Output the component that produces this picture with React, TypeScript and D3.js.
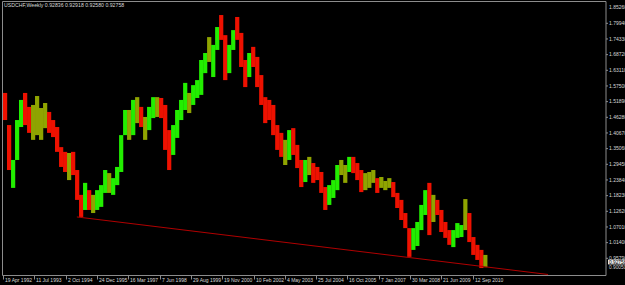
import React, { useEffect } from "react";
import * as d3 from "d3";

// ---- data ----
const symbolTitle = "USDCHF,Weekly";
const ohlcValues = ["0.92836", "0.92918", "0.92580", "0.92758"];

// price ranges, one entry per ~8 week period from 19 Apr 1992
const highs = [
  1.550, 1.435, 1.310, 1.453, 1.525, 1.550, 1.500, 1.507, 1.539, 1.496,
  1.514, 1.482, 1.453, 1.428, 1.356, 1.339, 1.335, 1.339, 1.274, 1.185,
  1.228, 1.202, 1.185, 1.202, 1.220, 1.274, 1.263, 1.245, 1.285, 1.399,
  1.489, 1.489, 1.525, 1.535, 1.500, 1.464, 1.500, 1.535, 1.535, 1.532,
  1.507, 1.417, 1.435, 1.489, 1.525, 1.586, 1.550, 1.578, 1.596, 1.668,
  1.693, 1.750, 1.722, 1.786, 1.829, 1.757, 1.722, 1.775, 1.822, 1.765,
  1.668, 1.693, 1.715, 1.679, 1.614, 1.535, 1.525, 1.507, 1.435, 1.407,
  1.382, 1.417, 1.424, 1.364, 1.310, 1.310, 1.321, 1.299, 1.285, 1.267,
  1.213, 1.220, 1.238, 1.292, 1.310, 1.292, 1.321, 1.321, 1.299, 1.274,
  1.263, 1.267, 1.274, 1.245, 1.249, 1.235, 1.245, 1.231, 1.192, 1.167,
  1.120, 1.066, 1.066, 1.088, 1.149, 1.202, 1.228, 1.185, 1.167, 1.131,
  1.088, 1.059, 1.059, 1.084, 1.077, 1.170, 1.120, 1.034, 1.006, 0.988,
  0.970,
];
const lows = [
  1.453, 1.274, 1.210, 1.310, 1.428, 1.435, 1.407, 1.382, 1.399, 1.382,
  1.424, 1.407, 1.392, 1.339, 1.285, 1.267, 1.238, 1.256, 1.167, 1.106,
  1.131, 1.131, 1.120, 1.131, 1.142, 1.192, 1.192, 1.185, 1.220, 1.267,
  1.399, 1.382, 1.399, 1.442, 1.428, 1.382, 1.417, 1.460, 1.464, 1.460,
  1.346, 1.274, 1.328, 1.389, 1.453, 1.489, 1.478, 1.507, 1.532, 1.543,
  1.621, 1.661, 1.607, 1.704, 1.740, 1.596, 1.621, 1.704, 1.740, 1.643,
  1.571, 1.607, 1.643, 1.571, 1.507, 1.442, 1.453, 1.399, 1.346, 1.321,
  1.292, 1.310, 1.328, 1.281, 1.213, 1.231, 1.256, 1.228, 1.238, 1.192,
  1.131, 1.149, 1.174, 1.202, 1.256, 1.228, 1.267, 1.263, 1.238, 1.195,
  1.202, 1.210, 1.228, 1.192, 1.210, 1.202, 1.210, 1.177, 1.138, 1.095,
  1.066, 0.963, 0.988, 1.002, 1.059, 1.113, 1.041, 1.088, 1.113, 1.052,
  1.031, 1.006, 0.998, 1.031, 1.034, 1.059, 1.016, 0.970, 0.952, 0.923,
  0.926,
];
const barPeriodDays = 57.26;

const priceTicks = [
  0.9579, 1.014, 1.0701, 1.1262, 1.1823, 1.2384, 1.2945, 1.3506, 1.4067,
  1.4628, 1.5189, 1.575, 1.6311, 1.6872, 1.7433, 1.7994,
];
const topPriceLabel = "1.85260";
const bottomPriceLabel = "0.90050";
const lastPrice = "0.92758";

const dateTicks = [
  "1992-04-19", "1993-07-11", "1994-10-02", "1995-12-24", "1997-03-16",
  "1998-06-07", "1999-08-29", "2000-11-19", "2002-02-10", "2003-05-04",
  "2004-07-25", "2005-10-16", "2007-01-07", "2008-03-30", "2009-06-21",
  "2010-09-12",
];

const trendDates = ["1995-03-12", "2013-08-25"];
const trendPrices = [1.106, 0.9];

// ---- chart ----
const W = 625;
const H = 285;
const axisX = 606;
const plotTop = 1.5;
const plotBottom = 275.5;
const plotLeft = 2.5;

const parse = d3.utcParse("%Y-%m-%d");
const fmtDate = d3.utcFormat("%-d %b %Y");

const barColors: Record<string, string> = {
  up: "#22ee00",
  down: "#ee1100",
  flat: "#8fa400",
};

export default function App() {
  useEffect(() => {
    document.body.style.margin = "0";
    document.body.style.background = "#000";
  }, []);

  const start = parse(dateTicks[0]) as Date;
  const end = parse(dateTicks[dateTicks.length - 1]) as Date;
  const x = d3.scaleUtc().domain([start, end]).range([3, 472.7]);
  const y = d3.scaleLinear().domain([0.9579, 1.7994]).range([258.3, 23.3]);

  const barDate = (i: number) =>
    d3.utcDay.offset(start, Math.round(i * barPeriodDays));

  const bars = highs.map((h, i) => {
    const l = lows[i];
    const mid = (h + l) / 2;
    const prevMid = i > 0 ? (highs[i - 1] + lows[i - 1]) / 2 : mid;
    const nextMid =
      i < highs.length - 1 ? (highs[i + 1] + lows[i + 1]) / 2 : mid;
    const d = nextMid - prevMid;
    let kind = "flat";
    if (d > 0.02) kind = "up";
    else if (d < -0.02) kind = "down";
    const x0 = x(barDate(i));
    const x1 = x(barDate(i + 1));
    return { x0, w: x1 - x0, y0: y(h), y1: y(l), kind, i };
  });

  const trendLine = d3
    .line<[Date, number]>()
    .x((d) => x(d[0]))
    .y((d) => y(d[1]));
  const trendPts: [Date, number][] = trendDates.map((d, i) => [
    parse(d) as Date,
    trendPrices[i],
  ]);

  const font = "'Liberation Sans', Arial, sans-serif";
  const textColor = "#d8d8d8";

  return (
    <svg
      width={W}
      height={H}
      style={{ display: "block", background: "#000" }}
      fontFamily={font}
    >
      <rect x={0} y={0} width={W} height={H} fill="#000" />
      <defs>
        <clipPath id="plot">
          <rect
            x={plotLeft}
            y={plotTop}
            width={axisX - plotLeft}
            height={plotBottom - plotTop}
          />
        </clipPath>
      </defs>
      <g clipPath="url(#plot)">
        {bars.map((b) => (
          <rect
            key={b.i}
            x={b.x0}
            y={b.y0}
            width={b.w + 0.2}
            height={Math.max(1, b.y1 - b.y0)}
            fill={barColors[b.kind]}
          />
        ))}
        <path
          d={trendLine(trendPts) || ""}
          stroke="#b00000"
          strokeWidth={1}
          fill="none"
        />
      </g>

      {/* frame */}
      <line x1={plotLeft} x2={axisX} y1={plotTop} y2={plotTop} stroke="#8c8c8c" />
      <line x1={plotLeft} x2={plotLeft} y1={plotTop} y2={plotBottom} stroke="#8c8c8c" />
      <line x1={plotLeft} x2={axisX} y1={plotBottom} y2={plotBottom} stroke="#8c8c8c" />
      <line x1={axisX} x2={axisX} y1={plotTop} y2={plotBottom} stroke="#8c8c8c" />

      {/* header */}
      <text x={4} y={7} fontSize={5.2} fill={textColor}>
        {symbolTitle + "  " + ohlcValues.join(" ")}
      </text>

      {/* price axis */}
      {priceTicks.map((p) => (
        <g key={p}>
          <line x1={axisX} x2={axisX + 2} y1={y(p)} y2={y(p)} stroke="#8c8c8c" />
          <text x={axisX + 3} y={y(p) + 1.8} fontSize={5} fill={textColor}>
            {p.toFixed(5)}
          </text>
        </g>
      ))}
      <text x={axisX + 3} y={9} fontSize={5} fill={textColor}>
        {topPriceLabel}
      </text>
      <rect x={axisX + 2} y={259.6} width={18} height={4.8} fill="#e8e8e8" />
      <text x={axisX + 3} y={263.7} fontSize={4.8} fill="#000">
        {lastPrice}
      </text>
      <text x={axisX + 3} y={268.6} fontSize={4.8} fill={textColor}>
        {bottomPriceLabel}
      </text>

      {/* date axis */}
      {dateTicks.map((d) => {
        const dt = parse(d) as Date;
        const xx = Math.round(x(dt)) + 0.5;
        return (
          <g key={d}>
            <line x1={xx} x2={xx} y1={plotBottom} y2={plotBottom + 4} stroke="#8c8c8c" />
            <text x={xx + 1.5} y={281.5} fontSize={5} fill={textColor}>
              {fmtDate(dt)}
            </text>
          </g>
        );
      })}
    </svg>
  );
}
